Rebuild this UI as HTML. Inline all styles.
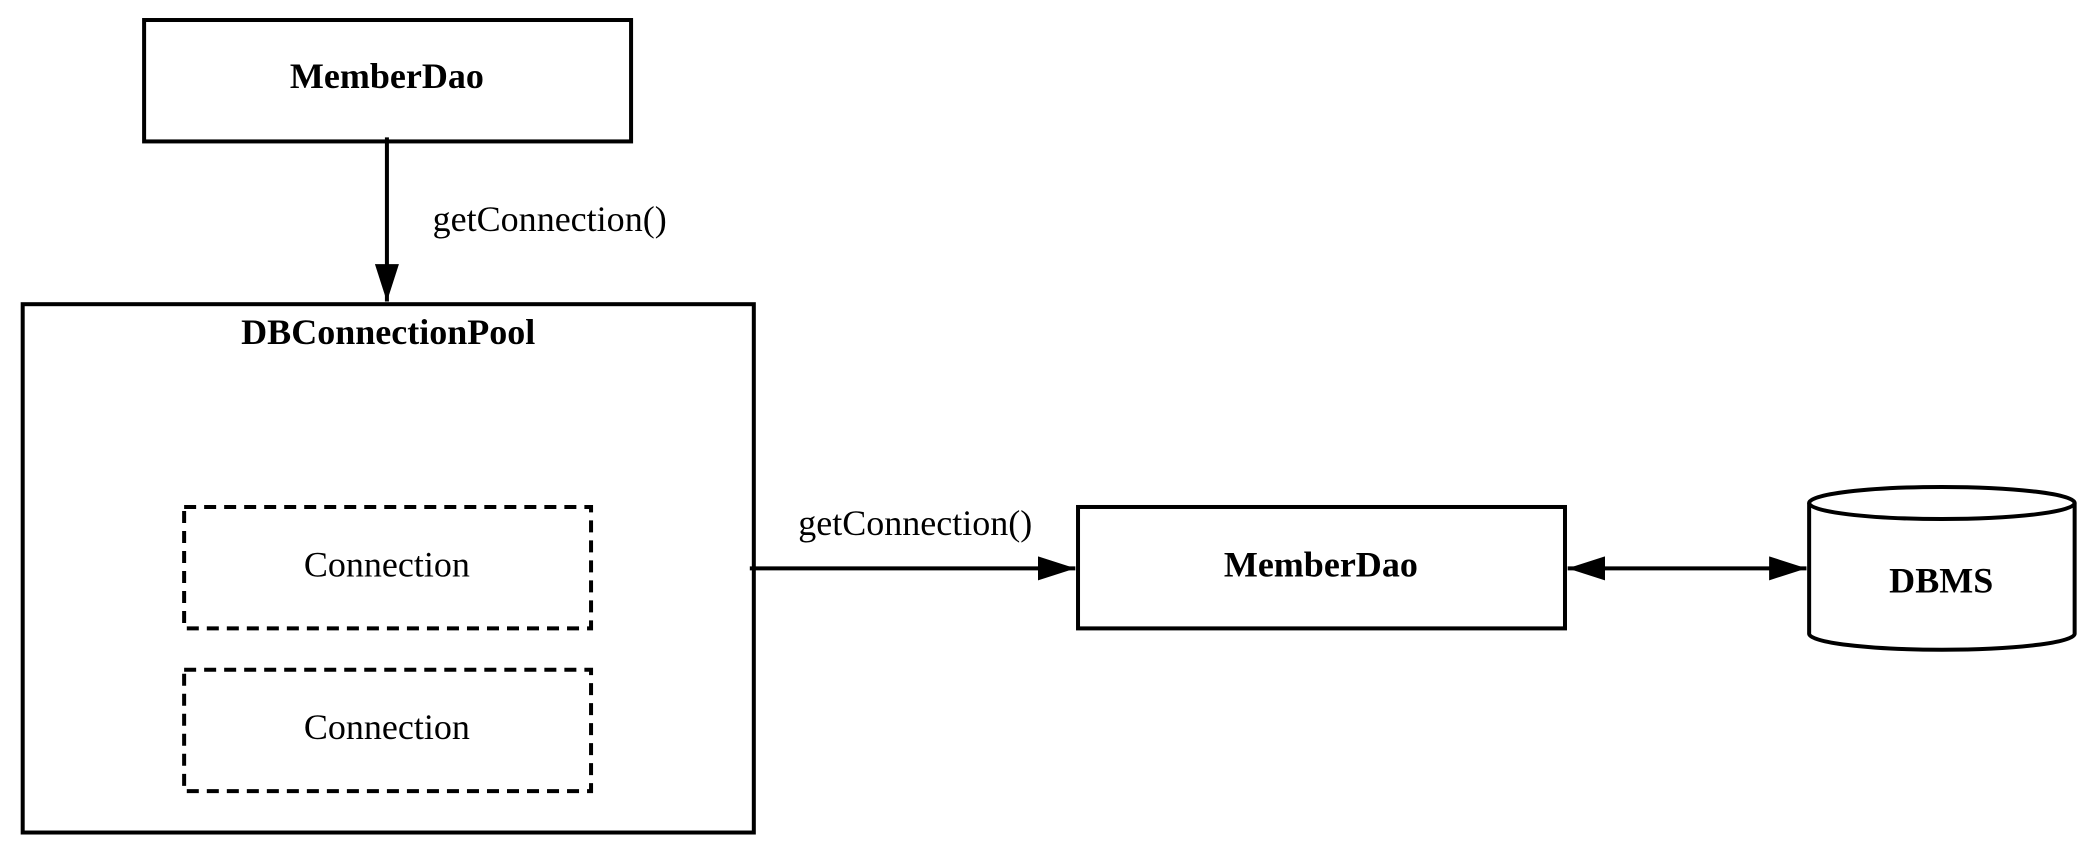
<!DOCTYPE html>
<html><head><meta charset="utf-8"><style>html,body{margin:0;padding:0;background:#fff}svg{display:block}</style></head>
<body>
<svg width="2092" height="856" viewBox="0 0 1568 641.6" xmlns="http://www.w3.org/2000/svg" font-family="Liberation Serif, serif">
<defs>
<marker id="a" markerWidth="28" markerHeight="18" refX="28" refY="9" orient="auto" markerUnits="userSpaceOnUse"><path d="M0,0 L28,9 L0,18 Z" fill="#000"/></marker>
<marker id="b" markerWidth="28" markerHeight="18" refX="0" refY="9" orient="auto" markerUnits="userSpaceOnUse"><path d="M28,0 L0,9 L28,18 Z" fill="#000"/></marker>
</defs>
<g fill="none" stroke="#000" stroke-width="3">
<rect x="108" y="15" width="365" height="91"/>
<rect x="17" y="228" width="548" height="396"/>
<rect x="138" y="380" width="305" height="91" stroke-dasharray="9,6"/>
<rect x="138" y="502" width="305" height="91" stroke-dasharray="9,6"/>
<rect x="808" y="380" width="365" height="91"/>
<path d="M1356,377 A99.5,12 0 0 1 1555,377 L1555,475 A99.5,12 0 0 1 1356,475 Z"/>
<path d="M1356,377 A99.5,12 0 0 0 1555,377"/>
<line x1="290" y1="103" x2="290" y2="226" marker-end="url(#a)"/>
<line x1="562" y1="426" x2="806" y2="426" marker-end="url(#a)"/>
<line x1="1175" y1="426" x2="1354" y2="426" marker-start="url(#b)" marker-end="url(#a)"/>
</g>
<g font-size="27" text-anchor="middle" fill="#000">
<text x="290" y="66" font-weight="bold">MemberDao</text>
<text x="291" y="258" font-weight="bold">DBConnectionPool</text>
<text x="290" y="432">Connection</text>
<text x="290" y="554">Connection</text>
<text x="990" y="432" font-weight="bold">MemberDao</text>
<text x="1455" y="444" font-weight="bold">DBMS</text>
<text x="412" y="173">getConnection()</text>
<text x="686" y="401">getConnection()</text>
</g>
</svg>
</body></html>
